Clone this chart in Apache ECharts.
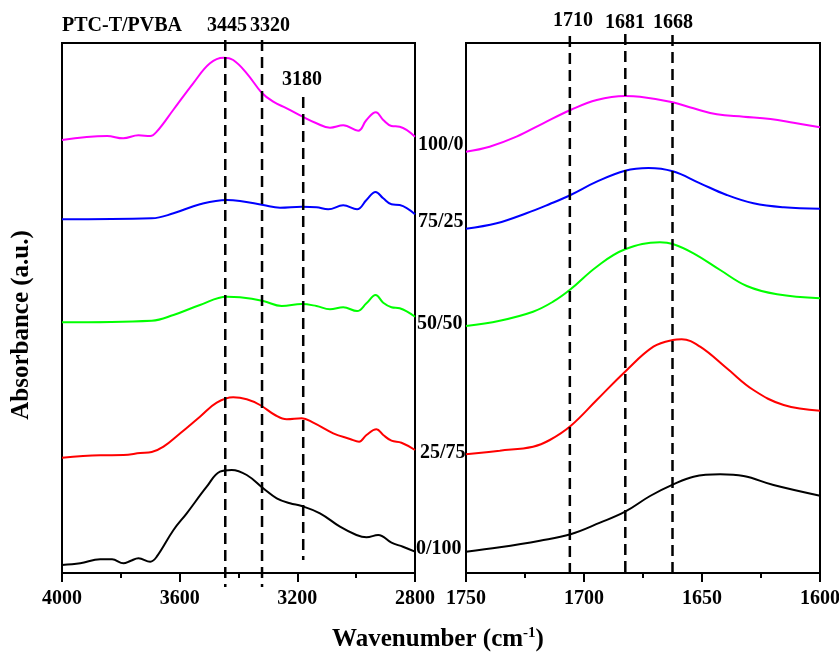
<!DOCTYPE html>
<html><head><meta charset="utf-8">
<script src="https://cdn.jsdelivr.net/npm/echarts@6/dist/echarts.min.js"></script>
<style>html,body{margin:0;padding:0;background:#fff}#c{width:839px;height:653px}</style>
</head><body><div id="c"></div>
<script>
// ---------- data (absorbance in arbitrary, stacked units) ----------
const seriesNames = ['100/0', '75/25', '50/50', '25/75', '0/100'];

// high wavenumber region 4000-2800 cm-1
const high_100_0 = [[4000,433],[3847,437],[3792,434.7],[3740,437.7],[3700,437],[3678,441.3],[3622,463],[3554,489.7],[3497,509.7],[3451,515.3],[3418,513],[3372,499.7],[3321,480.3],[3282,471.3],[3236,464.7],[3182,456.3],[3135,449.7],[3089,445.3],[3044,447.7],[2993,442.3],[2965,453],[2933,460.7],[2908,453],[2880,447],[2852,446.3],[2800,436.3]];
const high_75_25 = [[4000,353.7],[3695,354.7],[3621,359.7],[3531,368.7],[3440,373],[3395,372],[3316,368],[3259,365.3],[3185,366.3],[3135,365.7],[3095,363.7],[3044,367.7],[2997,363.7],[2965,373],[2934,381],[2908,374.7],[2880,368.7],[2852,368],[2800,358.7]];
const high_50_50 = [[4000,250.7],[3695,252.3],[3621,258],[3531,268],[3440,276.3],[3395,275.7],[3316,272],[3253,267],[3185,269],[3135,267],[3089,263.7],[3044,265.7],[2997,262],[2965,269.7],[2934,278],[2908,270.3],[2880,265.7],[2852,264.7],[2800,256.3]];
const high_25_75 = [[4000,115.3],[3870,117.7],[3791,118],[3734,120],[3695,121],[3655,126.3],[3598,139.7],[3531,156.3],[3474,170.3],[3418,175.7],[3372,173.7],[3327,168],[3276,158],[3236,153.7],[3185,154.7],[3146,150.3],[3078,139.7],[3021,134],[2990,131.3],[2965,138],[2931,143.7],[2908,138],[2880,132.3],[2846,130.3],[2800,123]];
const high_0_100 = [[4000,8],[3938,9.7],[3870,13.7],[3830,13.7],[3791,9.7],[3768,12],[3740,14.7],[3700,11.3],[3678,16.3],[3621,43],[3576,59.7],[3508,86.3],[3463,101.3],[3423,103],[3372,98],[3316,84.7],[3270,74.7],[3225,69.7],[3185,67],[3123,59.7],[3055,46.3],[2999,38],[2965,35.7],[2925,38],[2880,30.3],[2841,26.3],[2800,21.3]];

// low wavenumber region 1750-1600 cm-1
const low_100_0 = [[1750,421.3],[1740,426.3],[1728.6,436.3],[1717.3,449.7],[1705.7,463],[1694.6,473],[1682.6,477],[1676.3,476.3],[1662.4,470.7],[1653.6,464.7],[1643.7,458.7],[1632.4,456.3],[1621,454],[1611.2,450.3],[1600,445.7]];
const low_75_25 = [[1750,344.3],[1737,349.7],[1724.4,359.7],[1714.5,369],[1705.7,378],[1694.6,391.3],[1682.6,402.3],[1672.7,405],[1662.4,401.7],[1650.8,389.7],[1639.5,378],[1628.2,369.7],[1615.4,365.7],[1600,364.3]];
const low_50_50 = [[1750,247],[1735.7,252.3],[1721.6,261.3],[1713.1,271.3],[1705.7,283.7],[1694.6,306.3],[1682.6,323.7],[1667.8,330.7],[1662.4,329],[1653.6,319.7],[1642.3,303],[1631,287],[1618.2,278.7],[1600,274.7]];
const low_25_75 = [[1750,118.7],[1735.7,122.3],[1721.6,126.3],[1714.5,133],[1705.7,147],[1694.6,173],[1682.6,201.3],[1670.6,226.3],[1662.4,233],[1658.6,233.7],[1650.8,226.3],[1639.5,204.7],[1628.2,183],[1615.4,168],[1600,162.3]];
const low_0_100 = [[1750,21.3],[1735.7,25.7],[1718.7,32.3],[1705.7,38.7],[1693.2,50.3],[1682.6,61.3],[1672,77],[1662.4,88.3],[1653.6,96.3],[1642.3,98.7],[1632.4,97],[1619.7,88],[1600,77.3]];

// reference (dashed) lines: position and [top, bottom] extent in absorbance units
const peaksHigh = [3445, 3320, 3180];
const peaksHighLabels = ['3445', '3320', '3180'];
const peaksHighExtent = [[533, -14], [533, -14], [476, 13]];
const peaksLow = [1706, 1682.5, 1662.5];
const peaksLowLabels = ['1710', '1681', '1668'];
const peaksLowExtent = [[537, 0], [539, 0], [538, 0]];

// axis ticks
const highTicks = {min: 2800, max: 4000, interval: 400};
const lowTicks = {min: 1600, max: 1750, interval: 50};
const yRange = {min: 0, max: 530};

// ---------- chart ----------
const colors = ['#ff00ff', '#0000ff', '#00ff00', '#ff0000', '#000000'];
const highData = [high_100_0, high_75_25, high_50_50, high_25_75, high_0_100];
const lowData = [low_100_0, low_75_25, low_50_50, low_25_75, low_0_100];
const FF = '"Liberation Serif", "Times New Roman", serif';

function xAxisCfg(gi, t) {
  return {
    type: 'value', gridIndex: gi, min: t.min, max: t.max, interval: t.interval, inverse: true,
    axisLine: {show: true, lineStyle: {color: '#000', width: 2}},
    axisTick: {show: true, inside: false, length: 9, lineStyle: {color: '#000', width: 2}},
    minorTick: {show: true, splitNumber: 2, length: 5, lineStyle: {color: '#000', width: 2}},
    splitLine: {show: false}, minorSplitLine: {show: false},
    axisLabel: {color: '#000', fontFamily: FF, fontWeight: 'bold', fontSize: 20, margin: 16,
      formatter: v => String(v)}
  };
}
function yAxisCfg(gi) {
  return {type: 'value', gridIndex: gi, min: yRange.min, max: yRange.max, show: false};
}

const series = [];
seriesNames.forEach((n, i) => {
  series.push({name: n, type: 'line', xAxisIndex: 0, yAxisIndex: 0, data: highData[i], smooth: 0.4,
    showSymbol: false, lineStyle: {color: colors[i], width: 2}, z: 3});
  series.push({name: n, type: 'line', xAxisIndex: 1, yAxisIndex: 1, data: lowData[i], smooth: 0.4,
    showSymbol: false, lineStyle: {color: colors[i], width: 2}, z: 3});
});
peaksHigh.forEach((p, i) => {
  series.push({type: 'line', xAxisIndex: 0, yAxisIndex: 0, clip: false, showSymbol: false, silent: true,
    data: [[p, peaksHighExtent[i][0]], [p, peaksHighExtent[i][1]]],
    lineStyle: {color: '#000', width: 2.5, type: [11, 6]}, z: 4});
});
peaksLow.forEach((p, i) => {
  series.push({type: 'line', xAxisIndex: 1, yAxisIndex: 1, clip: false, showSymbol: false, silent: true,
    data: [[p, peaksLowExtent[i][0]], [p, peaksLowExtent[i][1]]],
    lineStyle: {color: '#000', width: 2.5, type: [11, 6]}, z: 4});
});

function txt(text, x, y, size, align) {
  return {type: 'text', x: x, y: y, silent: true, z: 10,
    style: {text: text, font: 'bold ' + size + 'px ' + FF, fill: '#000',
      textAlign: align || 'center', textVerticalAlign: 'middle', align: align || 'center', verticalAlign: 'middle'}};
}

const seriesLabelPos = [[418, 145], [418, 222], [417, 324], [420, 453], [416, 549]];
const highLabelPos = [[227, 26], [270, 26], [302, 80]];
const lowLabelPos = [[573, 21], [625, 23], [673, 23]];

const graphic = [];
seriesNames.forEach((n, i) => graphic.push(txt(n, seriesLabelPos[i][0], seriesLabelPos[i][1], 20, 'left')));
peaksHighLabels.forEach((l, i) => graphic.push(txt(l, highLabelPos[i][0], highLabelPos[i][1], 20)));
peaksLowLabels.forEach((l, i) => graphic.push(txt(l, lowLabelPos[i][0], lowLabelPos[i][1], 20)));
graphic.push(txt('PTC-T/PVBA', 62, 26, 20, 'left'));
graphic.push({type: 'text', x: 438, y: 640, silent: true,
  style: {text: 'Wavenumber (cm{sup|-1})', font: 'bold 25px ' + FF, fill: '#000',
    textAlign: 'center', textVerticalAlign: 'middle', align: 'center', verticalAlign: 'middle',
    rich: {sup: {fontFamily: FF, fontWeight: 'bold', fontSize: 15, padding: [0, 0, 13, 0]}}}});
graphic.push({type: 'text', x: 22, y: 325, rotation: Math.PI / 2, silent: true,
  style: {text: 'Absorbance (a.u.)', font: 'bold 25px ' + FF, fill: '#000',
    textAlign: 'center', textVerticalAlign: 'middle', align: 'center', verticalAlign: 'middle'}});

const chart = echarts.init(document.getElementById('c'), null, {renderer: 'canvas'});
chart.setOption({
  backgroundColor: '#fff',
  animation: false,
  grid: [
    {left: 62, top: 43, width: 353, height: 530, show: true, borderColor: '#000', borderWidth: 2,
      backgroundColor: 'transparent', containLabel: false, outerBoundsMode: 'none'},
    {left: 466, top: 43, width: 354, height: 530, show: true, borderColor: '#000', borderWidth: 2,
      backgroundColor: 'transparent', containLabel: false, outerBoundsMode: 'none'}
  ],
  xAxis: [xAxisCfg(0, highTicks), xAxisCfg(1, lowTicks)],
  yAxis: [yAxisCfg(0), yAxisCfg(1)],
  series: series,
  graphic: graphic
});
</script></body></html>
